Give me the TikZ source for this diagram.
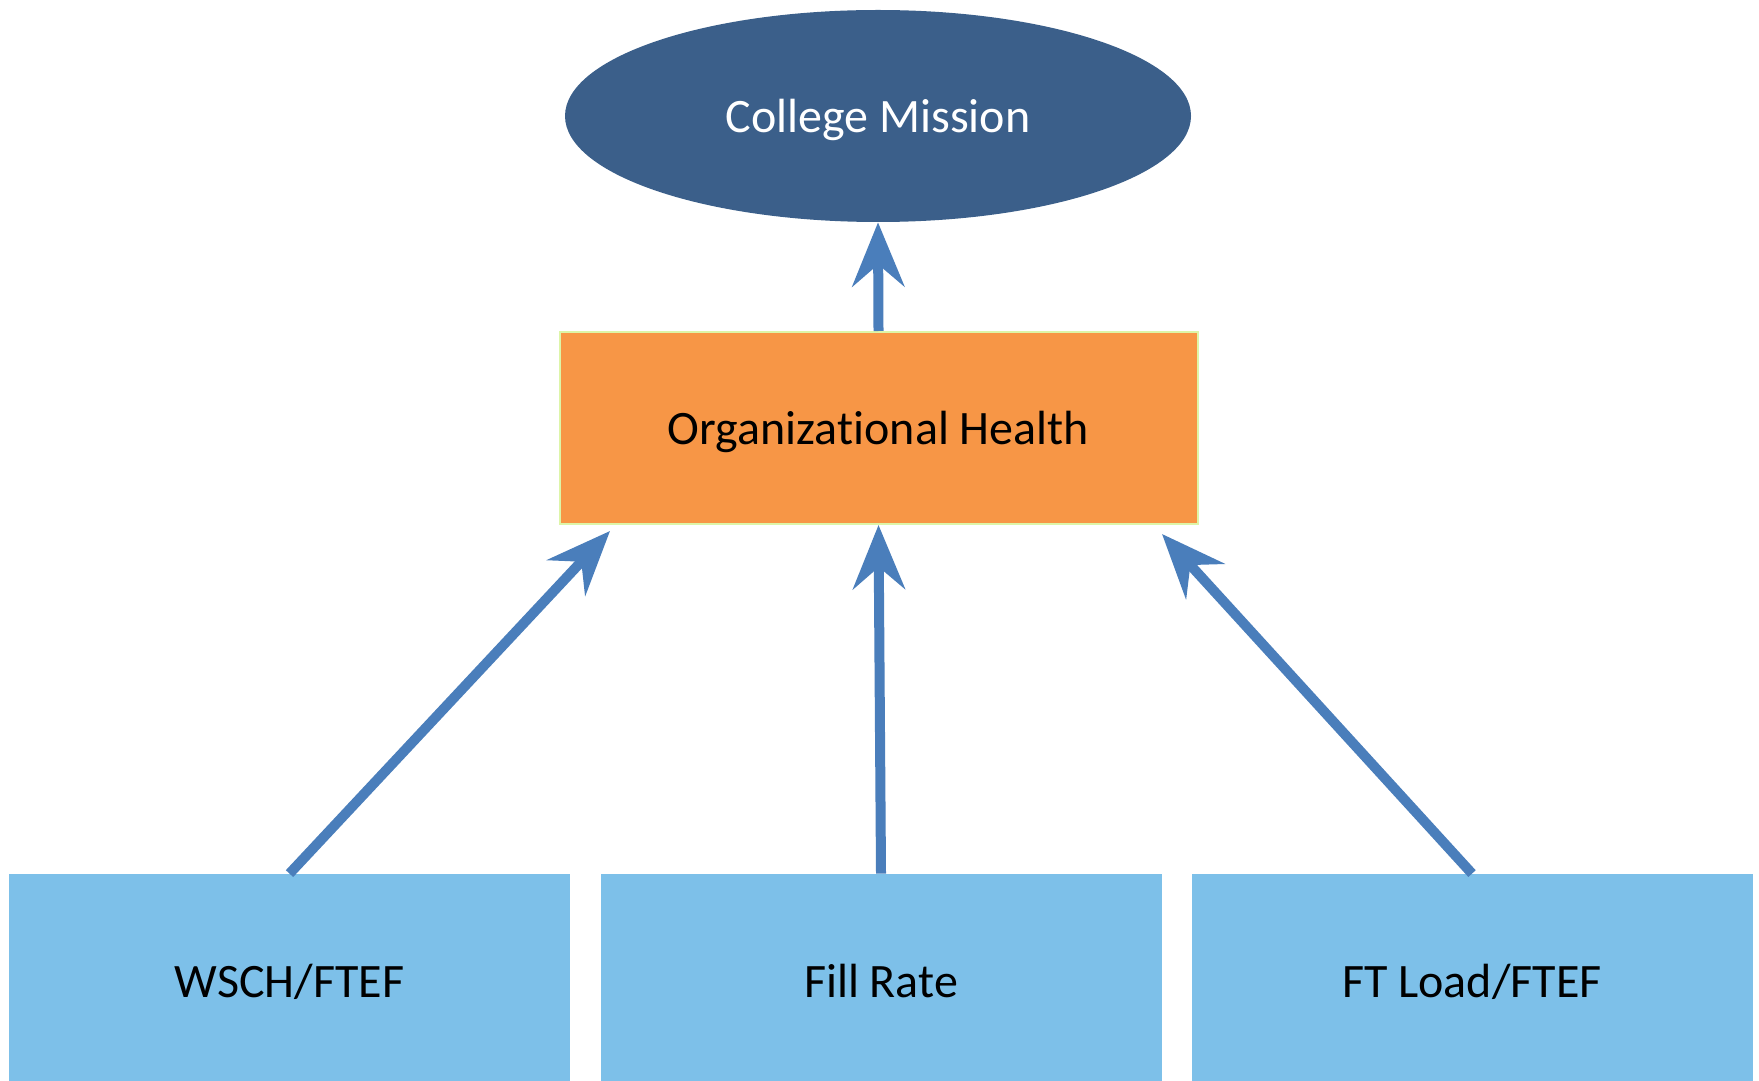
\documentclass[tikz,border=0pt]{standalone}
\usepackage{fontspec}
\setmainfont{Carlito}[Ligatures=CommonOff]
\usetikzlibrary{positioning}
\usetikzlibrary{shapes.geometric}
\usetikzlibrary{arrows.meta}
\definecolor{missionblue}{HTML}{3B5F8A}
\definecolor{healthorange}{HTML}{F79646}
\definecolor{healthedge}{HTML}{DDF5A8}
\definecolor{metricblue}{HTML}{7DC0E9}
\definecolor{arrowblue}{HTML}{4A7EBB}
\tikzset{
 mission/.style={ellipse,fill=missionblue,text=white,minimum width=313pt,minimum height=106pt,inner sep=0pt,text depth=0pt},
 health/.style={rectangle,fill=healthorange,draw=healthedge,line width=1pt,minimum width=319pt,minimum height=96pt,inner sep=0pt,text depth=0pt},
 metric/.style={rectangle,fill=metricblue,minimum width=280.5pt,minimum height=107pt,inner sep=0pt,text depth=0pt},
 flow/.style={draw=arrowblue,line width=5pt,-{Stealth[length=32pt,width=26pt,inset=11pt]}}
}

\begin{document}
\begin{tikzpicture}[x=0.5pt,y=-0.5pt,font=\fontsize{24}{28}\selectfont]
 \useasboundingbox (0,0) rectangle (1759,1080);
 \node[mission] (mission) at (878,116) {College Mission};
 \node[health] (health) at (878.5,428) {Organizational Health};
 \node[metric] (wsch) at (289.5,981) {WSCH/FTEF};
 \node[metric] (fill) at (881,981) {Fill Rate};
 \node[metric] (ftload) at (1472,981) {FT Load/FTEF};
 \coordinate (wschtip) at (610,531);
 \coordinate (ftloadtip) at (1162,534);
 \draw[flow] (wsch.north) -- (wschtip);
 \draw[flow] (fill.north) -- (health.south);
 \draw[flow] (ftload.north) -- (ftloadtip);
 \draw[flow] (health.north) -- (mission.south);
\end{tikzpicture}
\end{document}
